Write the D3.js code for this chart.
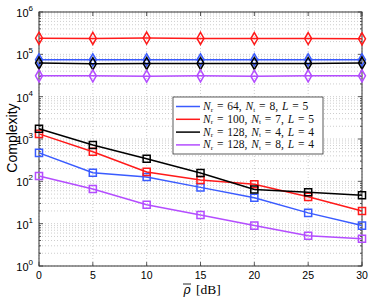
<!doctype html>
<html lang="en">
<head>
    <meta charset="UTF-8">
    <script src="https://cdnjs.cloudflare.com/ajax/libs/d3/7.8.5/d3.min.js"></script>
    <title>Complexity</title>
    <style>
        body { margin: 0; background: #fff; }
    </style>
</head>
<body>
<div id="Area"></div>
<script>
    // data
    const snr = [0, 5, 10, 15, 20, 25, 30];
    const seriesNames = ["blue", "red", "black", "purple"];
    const colors = ["#3a5bff", "#ff1a1a", "#000000", "#b44dff"];
    const legendNr = ["64", "100", "128", "128"];
    const legendNt = ["8", "7", "4", "8"];
    const legendL = ["5", "5", "4", "4"];

    // flat curves (diamonds)
    const flatBlue = [74000, 74000, 74000, 74000, 74000, 74000, 74000];
    const flatRed = [240000, 238000, 242000, 238000, 236000, 236000, 232000];
    const flatBlack = [62000, 60000, 61000, 61000, 61000, 61000, 62000];
    const flatPurple = [31000, 31000, 30500, 31000, 30500, 31000, 31000];

    // falling curves (squares)
    const sqBlue = [470, 160, 126, 72, 41, 18, 9];
    const sqRed = [1320, 500, 167, 108, 85, 43, 20];
    const sqBlack = [1740, 720, 340, 158, 64, 55, 47];
    const sqPurple = [134, 66, 28, 16, 9, 5.2, 4.4];

    const yTickExp = [0, 1, 2, 3, 4, 5, 6];
    const xTicks = [0, 5, 10, 15, 20, 25, 30];

    const flats = [flatBlue, flatRed, flatBlack, flatPurple];
    const squares = [sqBlue, sqRed, sqBlack, sqPurple];

    const W = 374, H = 299;
    const margin = {top: 12, right: 12, bottom: 33, left: 39};
    const width = W - margin.left - margin.right,
        height = H - margin.top - margin.bottom;

    const root = d3.select("#Area").append("svg")
        .attr("width", W).attr("height", H);
    const svg = root.append("g")
        .attr("transform", "translate(" + margin.left + "," + margin.top + ")");

    const x = d3.scaleLinear().domain([0, 30]).range([0, width]);
    const y = d3.scaleLog().domain([1, 1e6]).range([height, 0]);

    // grid
    const minor = [];
    for (let e = 0; e < 6; e++) for (let m = 1; m < 10; m++) minor.push(m * Math.pow(10, e));
    minor.push(1e6);
    svg.append("g").selectAll("line").data(minor).join("line")
        .attr("x1", 0).attr("x2", width)
        .attr("y1", d => y(d)).attr("y2", d => y(d))
        .attr("stroke", "#b8b8b8").attr("stroke-width", 0.7)
        .attr("stroke-dasharray", "1,2");
    svg.append("g").selectAll("line").data(xTicks).join("line")
        .attr("x1", d => x(d)).attr("x2", d => x(d))
        .attr("y1", 0).attr("y2", height)
        .attr("stroke", "#b8b8b8").attr("stroke-width", 0.7)
        .attr("stroke-dasharray", "1,2");

    // box
    svg.append("rect").attr("width", width).attr("height", height)
        .attr("fill", "none").attr("stroke", "#333").attr("stroke-width", 1);

    // ticks (inside)
    const tk = svg.append("g").attr("stroke", "#333").attr("stroke-width", 0.8);
    minor.forEach(v => {
        const len = Number.isInteger(Math.log10(v)) ? 4 : 2;
        tk.append("line").attr("x1", 0).attr("x2", len).attr("y1", y(v)).attr("y2", y(v));
        tk.append("line").attr("x1", width).attr("x2", width - len).attr("y1", y(v)).attr("y2", y(v));
    });
    xTicks.forEach(v => {
        tk.append("line").attr("x1", x(v)).attr("x2", x(v)).attr("y1", height).attr("y2", height - 4);
        tk.append("line").attr("x1", x(v)).attr("x2", x(v)).attr("y1", 0).attr("y2", 4);
    });

    // tick labels
    const sans = "Liberation Sans, Arial, sans-serif";
    svg.append("g").selectAll("text").data(xTicks).join("text")
        .attr("x", d => x(d)).attr("y", height + 13)
        .attr("text-anchor", "middle").attr("font-family", sans).attr("font-size", 10.5)
        .text(d => d);
    const yl = svg.append("g").selectAll("text").data(yTickExp).join("text")
        .attr("x", -6).attr("y", d => y(Math.pow(10, d)) + 5)
        .attr("text-anchor", "end").attr("font-family", sans).attr("font-size", 11);
    yl.append("tspan").text("10");
    yl.append("tspan").attr("font-size", 8).attr("dy", -6).text(d => d);

    // axis labels
    root.append("text").attr("transform", "translate(17,138) rotate(-90)")
        .attr("text-anchor", "middle").attr("font-family", sans).attr("font-size", 14)
        .text("Complexity");
    const serif = "DejaVu Serif, serif";
    root.append("text").attr("x", 187).attr("y", 294)
        .attr("text-anchor", "middle").attr("font-family", serif)
        .attr("font-style", "italic").attr("font-size", 12).text("\u03C1");
    root.append("line").attr("x1", 183).attr("x2", 191).attr("y1", 284).attr("y2", 284)
        .attr("stroke", "#111").attr("stroke-width", 0.9);
    root.append("text").attr("x", 196).attr("y", 294)
        .attr("font-family", "Liberation Serif, serif").attr("font-size", 13.5).text("[dB]");

    // lines + markers
    const line = d3.line().x((d, i) => x(snr[i])).y(d => y(d));
    const diamond = d3.symbol().type(d3.symbolDiamond).size(42);
    const square = d3.symbol().type(d3.symbolSquare).size(50);

    function drawSeries(data, color, sym) {
        svg.append("path").datum(data).attr("d", line)
            .attr("fill", "none").attr("stroke", color).attr("stroke-width", 1.5);
        svg.append("g").selectAll("path").data(data).join("path")
            .attr("transform", (d, i) => "translate(" + x(snr[i]) + "," + y(d) + ")")
            .attr("d", sym).attr("fill", "none")
            .attr("stroke", color).attr("stroke-width", 1.5);
    }
    flats.forEach((s, i) => drawSeries(s, colors[i], diamond));
    squares.forEach((s, i) => drawSeries(s, colors[i], square));

    // legend
    const lg = root.append("g").attr("transform", "translate(173,97)");
    lg.append("rect").attr("width", 150).attr("height", 57)
        .attr("fill", "#fff").attr("stroke", "#333").attr("stroke-width", 0.8);
    seriesNames.forEach((n, i) => {
        const ry = 9.5 + i * 12.8;
        lg.append("line").attr("x1", 3).attr("x2", 27).attr("y1", ry).attr("y2", ry)
            .attr("stroke", colors[i]).attr("stroke-width", 1.5);
        const t = lg.append("text").attr("x", 30).attr("y", ry + 3.5)
            .attr("font-family", "Liberation Serif, serif").attr("font-size", 11.5)
            .attr("fill", "#111").attr("word-spacing", 1);
        t.append("tspan").attr("font-style", "italic").text("N");
        t.append("tspan").attr("font-size", 7).attr("dy", 1.5).text("r");
        t.append("tspan").attr("dy", -1.5).text(" = " + legendNr[i] + ", ");
        t.append("tspan").attr("font-style", "italic").text("N");
        t.append("tspan").attr("font-size", 7).attr("dy", 1.5).text("t");
        t.append("tspan").attr("dy", -1.5).text(" = " + legendNt[i] + ", ");
        t.append("tspan").attr("font-style", "italic").text("L");
        t.append("tspan").text(" = " + legendL[i]);
    });
</script>
</body>
</html>
